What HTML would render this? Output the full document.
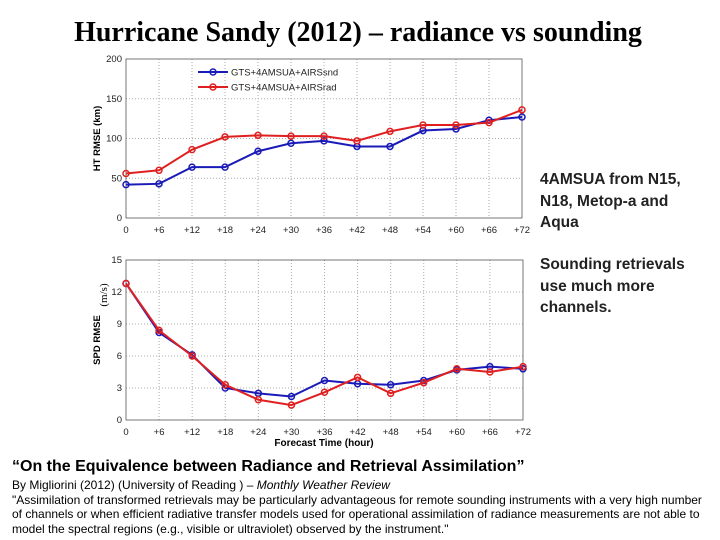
<!DOCTYPE html>
<html><head><meta charset="utf-8"><style>
body{margin:0;width:720px;height:540px;background:#fff;position:relative;overflow:hidden;font-family:"Liberation Sans",sans-serif}
.t{position:absolute;white-space:nowrap}
</style></head><body>
<div class="t" style="left:0;width:716px;text-align:center;top:17px;font-family:'Liberation Serif',serif;font-size:28px;font-weight:bold">Hurricane Sandy (2012) – radiance vs sounding</div>
<svg id="c" width="720" height="540" style="position:absolute;left:0;top:0"></svg>
<div class="t" style="left:540px;top:169px;font-size:15.5px;font-weight:bold;line-height:21.5px;color:#222">4AMSUA from N15,<br>N18, Metop-a and<br>Aqua</div>
<div class="t" style="left:540px;top:254px;font-size:15.5px;font-weight:bold;line-height:21.5px;color:#222">Sounding retrievals<br>use much more<br>channels.</div>
<div class="t" style="left:12px;top:458px;font-size:16px;font-weight:bold">“On the Equivalence between Radiance and Retrieval Assimilation”</div>
<div class="t" style="left:12px;top:478px;font-size:12px;line-height:14.5px">By Migliorini (2012) (University of Reading ) – <i>Monthly Weather Review</i><br>"Assimilation of transformed retrievals may be particularly advantageous for remote sounding instruments with a very high number<br>of channels or when efficient radiative transfer models used for operational assimilation of radiance measurements are not able to<br>model the spectral regions (e.g., visible or ultraviolet) observed by the instrument."</div>
<script>
const cats=["0","+6","+12","+18","+24","+30","+36","+42","+48","+54","+60","+66","+72"];
const htSnd=[42,43,64,64,84,94,97,90,90,110,112,123,127];
const htRad=[56,60,86,102,104,103,103,97,109,117,117,120,136];
const spdSnd=[12.8,8.2,6.1,3.0,2.5,2.2,3.7,3.4,3.3,3.7,4.7,5.0,4.8];
const spdRad=[12.8,8.4,6.0,3.3,1.9,1.4,2.6,4.0,2.5,3.5,4.8,4.5,5.0];
const htTicks=[0,50,100,150,200];
const spdTicks=[0,3,6,9,12,15];
const svg=document.getElementById('c');const NS='http://www.w3.org/2000/svg';
function mk(t,a,p){const e=document.createElementNS(NS,t);for(const k in a)e.setAttribute(k,a[k]);(p||svg).appendChild(e);return e;}
function chart(x0,x1,y0,y1,ticks,s1,s2,name,ylabel){
 const ymax=ticks[ticks.length-1];
 const X=i=>x0+(x1-x0)*i/(cats.length-1);const Y=v=>y1-(y1-y0)*v/ymax;
 const g=mk('g',{});
 
 
 cats.forEach((c,i)=>{
  if(i>0&&i<cats.length-1)mk('line',{x1:X(i),x2:X(i),y1:y0,y2:y1,stroke:'#aaa','stroke-dasharray':'1,2'},g);
  const t=mk('text',{x:X(i),y:y1+15,'font-size':9.5,'text-anchor':'middle',fill:'#222'},g);t.textContent=c;
  
  
 });
 ticks.forEach(v=>{
  if(v>0&&v<ymax)mk('line',{x1:x0,x2:x1,y1:Y(v),y2:Y(v),stroke:'#aaa','stroke-dasharray':'1,2'},g);
  const t=mk('text',{x:x0-4,y:Y(v)+3,'font-size':9.5,'text-anchor':'end',fill:'#222'},g);t.textContent=v;
  
  
 });
 mk('rect',{x:x0,y:y0,width:x1-x0,height:y1-y0,fill:'none',stroke:'#555','stroke-width':0.8},g);
 [[s1,'#1a1ab8'],[s2,'#e02020']].forEach(([s,c])=>{
  const l=mk('polyline',{points:s.map((v,i)=>X(i)+','+Y(v)).join(' '),fill:'none',stroke:c,'stroke-width':2},g);
  
  
  s.forEach((v,i)=>{const p=mk('circle',{cx:X(i),cy:Y(v),r:3,fill:'none',stroke:c,'stroke-width':1.5},g);
   
   });
 });
 const yl=mk('text',{x:0,y:0,'font-size':9.5,'font-weight':'bold','text-anchor':'middle',transform:`translate(${x0-26},${(y0+y1)/2}) rotate(-90)`},g);yl.textContent=ylabel;
 
 
 return {X,Y};
}
chart(126,522,59,218,htTicks,htSnd,htRad,'ht-chart','HT RMSE (km)');
chart(126,523,260,420,spdTicks,spdSnd,spdRad,'spd-chart','SPD RMSE');
const mu=mk('text',{x:0,y:0,'font-size':11,'font-family':'Liberation Serif,serif','text-anchor':'middle',transform:'translate(107,295) rotate(-90)'});mu.textContent='(m/s)';


const xt=mk('text',{x:324,y:446,'font-size':10,'font-weight':'bold','text-anchor':'middle'});xt.textContent='Forecast Time (hour)';


[['GTS+4AMSUA+AIRSsnd','#1a1ab8',72],['GTS+4AMSUA+AIRSrad','#e02020',87]].forEach(([n,c,y])=>{
 const g=mk('g',{});
 
 
 mk('line',{x1:198,x2:228,y1:y,y2:y,stroke:c,'stroke-width':2},g);
 mk('circle',{cx:213,cy:y,r:3,fill:'none',stroke:c,'stroke-width':1.5},g);
 const t=mk('text',{x:231,y:y+3.5,'font-size':9.5,fill:'#222'},g);t.textContent=n;
});
</script>
</body></html>
